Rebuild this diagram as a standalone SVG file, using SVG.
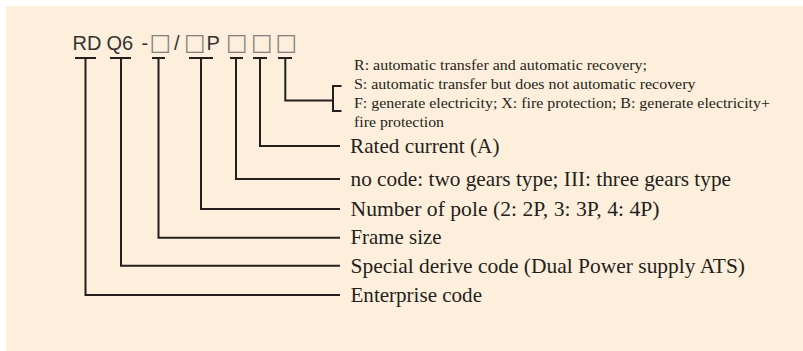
<svg xmlns="http://www.w3.org/2000/svg" width="803" height="351" viewBox="0 0 803 351">
<style>
.hd{font-family:"Liberation Sans",Arial,sans-serif;font-size:20px;fill:#333333}
.bx{font-family:"DejaVu Sans",sans-serif;font-size:23px;fill:#808080}
.lg{font-family:"Liberation Serif","Times New Roman",serif;font-size:21px;fill:#231f20}
.sm{font-family:"Liberation Serif","Times New Roman",serif;font-size:14.5px;fill:#231f20}
.ln{fill:none;stroke:#231f20;stroke-width:2}
</style>
<rect x="0" y="0" width="803" height="351" fill="#ffffff"/>
<rect x="6" y="6" width="797" height="345" fill="#fdefdb"/>
<g id="code">
<text class="hd" y="50"><tspan x="72.5">RD</tspan><tspan x="106.5">Q6</tspan><tspan x="141.5">-</tspan><tspan class="bx" x="149.5">□</tspan><tspan x="174">/</tspan><tspan class="bx" x="184">□</tspan><tspan x="206.5">P</tspan><tspan class="bx" x="226">□</tspan><tspan class="bx" x="251">□</tspan><tspan class="bx" x="275.5">□</tspan></text>
</g>
<g id="connectors">
<path class="ln" d="M75 58H96M85.5 58V295H340"/>
<path class="ln" d="M110 58H131M121 58V265.7H340"/>
<path class="ln" d="M152 58H165M158.5 58V237.7H340"/>
<path class="ln" d="M189 58H213M201 58V209H340"/>
<path class="ln" d="M230 58H243M236 58V179H340"/>
<path class="ln" d="M253 58H267M260 58V146H340"/>
<path class="ln" d="M278 58H292M285.3 58V100.5H333"/>
<path class="ln" d="M341.5 86H333V111H341.5"/>
</g>
<g id="desc-type">
<text class="sm" x="354" y="70" textLength="293" lengthAdjust="spacingAndGlyphs">R: automatic transfer and automatic recovery;</text>
<text class="sm" x="354" y="89.3" textLength="341.5" lengthAdjust="spacingAndGlyphs">S: automatic transfer but does not automatic recovery</text>
<text class="sm" x="354" y="108.3" textLength="416" lengthAdjust="spacingAndGlyphs">F: generate electricity; X: fire protection; B: generate electricity+</text>
<text class="sm" x="354" y="127.3" textLength="90" lengthAdjust="spacingAndGlyphs">fire protection</text>
</g>
<g id="desc-current"><text class="lg" x="350" y="153.3" textLength="149.5" lengthAdjust="spacingAndGlyphs">Rated current (A)</text></g>
<g id="desc-gears"><text class="lg" x="350.5" y="185.5" textLength="380.5" lengthAdjust="spacingAndGlyphs">no code: two gears type; III: three gears type</text></g>
<g id="desc-pole"><text class="lg" x="350.5" y="215.5" textLength="309" lengthAdjust="spacingAndGlyphs">Number of pole (2: 2P, 3: 3P, 4: 4P)</text></g>
<g id="desc-frame"><text class="lg" x="350.5" y="244" textLength="91" lengthAdjust="spacingAndGlyphs">Frame size</text></g>
<g id="desc-derive"><text class="lg" x="350.5" y="272.5" textLength="394.5" lengthAdjust="spacingAndGlyphs">Special derive code (Dual Power supply ATS)</text></g>
<g id="desc-enterprise"><text class="lg" x="350.5" y="301.5" textLength="131.5" lengthAdjust="spacingAndGlyphs">Enterprise code</text></g>
</svg>
